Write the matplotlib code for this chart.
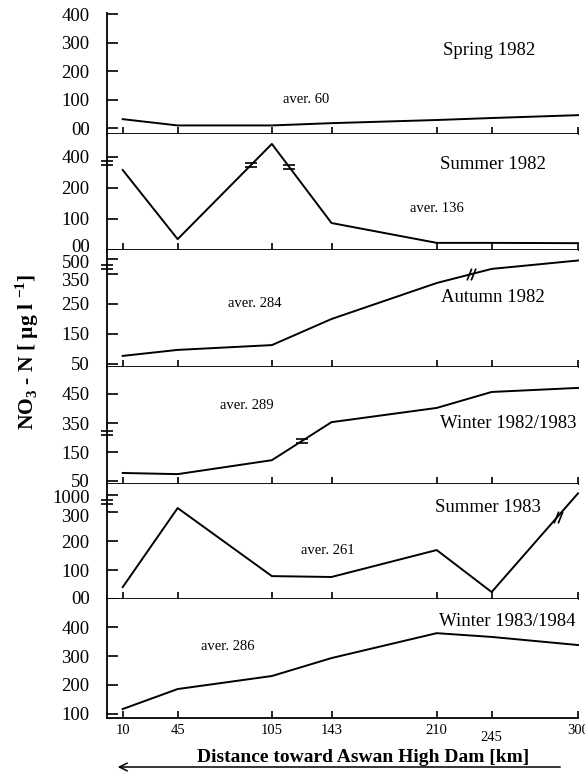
import numpy as np
import matplotlib
matplotlib.use("Agg")
import matplotlib.pyplot as plt
from matplotlib.path import Path
from matplotlib.patches import FancyArrowPatch
from matplotlib.transforms import ScaledTranslation

plt.rcParams["font.family"] = ["Liberation Serif", "DejaVu Serif"]
plt.rcParams["mathtext.fontset"] = "custom"
plt.rcParams["mathtext.rm"] = "Liberation Serif"
plt.rcParams["mathtext.bf"] = "Liberation Serif:bold"

# --- data (NO3-N, ug/l) -------------------------------------------------
distance_km = [10, 45, 105, 143, 210, 245, 300]
x_tick_labels = ["10", "45", "105", "143", "210", "245", "300"]

spring_1982 = [32, 10, 10, 18, 29, 36, 46]
summer_1982 = [274, 35, 526, 87, 23, 23, 22]
autumn_1982 = [77, 97, 113, 200, 320, 401, 485]
winter_1982_83 = [78, 74, 122, 353, 402, 457, 471]
summer_1983 = [41, 314, 79, 76, 169, 24, 1130]
winter_1983_84 = [117, 186, 231, 293, 379, 366, 338]

season_names = ["Spring 1982", "Summer 1982", "Autumn 1982",
                "Winter 1982/1983", "Summer 1983", "Winter 1983/1984"]
season_means = ["aver. 60", "aver. 136", "aver. 284",
                "aver. 289", "aver. 261", "aver. 286"]

y_ticks = [[0, 100, 200, 300, 400],
           [0, 100, 200, 400],
           [50, 150, 250, 350, 500],
           [50, 150, 350, 450],
           [0, 100, 200, 300, 1000],
           [100, 200, 300, 400]]
y_tick_labels = [["00", "100", "200", "300", "400"],
                 ["00", "100", "200", "400"],
                 ["50", "150", "250", "350", "500"],
                 ["50", "150", "350", "450"],
                 ["00", "100", "200", "300", "1000"],
                 ["100", "200", "300", "400"]]
# small vertical nudges of single tick labels (pixels, + = up), as in the original
y_label_nudge = [{}, {0: 5}, {3: -5, 4: -2}, {0: 1}, {0: 2, 3: -3, 4: -1}, {}]

# broken-axis scales: (values, positions) knots, piecewise linear
scale_knots = [([-1000, 5000], [-1000, 5000]),
               ([-1000, 250, 2000], [-1000, 250, 250 + 1750 / 3]),
               ([-1000, 350, 2000], [-1000, 350, 350 + 1650 / 3]),
               ([-1000, 200, 320, 2000], [-1000, 200, 220, 1900]),
               ([-1000, 330, 5000], [-1000, 330, 330 + 4670 * 29 / 670]),
               ([-1000, 5000], [-1000, 5000])]
y_limits = [(-20, 404), (0, 622), (40, 590), (40, 543), (0, 1878), (86, 497)]

axis_break = [None, 342, 419, 293, 422, None]
line_break_km = [[], [92, 116], [232], [124], [287], []]
line_break_kind = [None, "eq", "slash", "eq", "slash", None]

# text placement (axes fraction)
name_pos = [(0.812, 0.694), (0.819, 0.733), (0.819, 0.590),
            (0.851, 0.521), (0.808, 0.800), (0.849, 0.807)]
mean_pos = [(0.422, 0.281), (0.700, 0.362), (0.314, 0.547),
            (0.297, 0.675), (0.469, 0.426), (0.257, 0.597)]

series = [spring_1982, summer_1982, autumn_1982,
          winter_1982_83, summer_1983, winter_1983_84]


def make_scale(vals, poss):
    vals = np.asarray(vals, float)
    poss = np.asarray(poss, float)
    def fwd(v):
        return np.interp(v, vals, poss)
    def inv(p):
        return np.interp(p, poss, vals)
    return fwd, inv


M, L = Path.MOVETO, Path.LINETO
eq_marker = Path([(-1, 0.3), (1, 0.3), (-1, -0.3), (1, -0.3)], [M, L, M, L])
slash_marker = Path([(-0.75, -1), (0.05, 1), (-0.05, -1), (0.75, 1)], [M, L, M, L])

W, H = 585, 773
edges = [13, 134, 250, 367, 484, 599, 718]
left_px, right_px = 107, 578

fig = plt.figure(figsize=(W / 100, H / 100), dpi=100)

for i, vals in enumerate(series):
    top, bot = edges[i], edges[i + 1]
    ax = fig.add_axes([left_px / W, 1 - bot / H, (right_px - left_px) / W, (bot - top) / H])
    fwd, inv = make_scale(*scale_knots[i])
    ax.set_yscale("function", functions=(fwd, inv))

    ax.plot(distance_km, vals, color="black", lw=1.4, clip_on=False)
    ax.set_xlim(0, 300)
    ax.set_ylim(*y_limits[i])

    for s in ["top", "right"]:
        ax.spines[s].set_visible(False)
    for s in ["left", "bottom"]:
        ax.spines[s].set_linewidth(1.3)

    ax.set_yticks(y_ticks[i])
    ax.set_yticklabels(y_tick_labels[i])
    ax.yaxis.set_minor_locator(matplotlib.ticker.NullLocator())
    ax.set_xticks(distance_km)
    ax.tick_params(axis="y", direction="in", length=8, width=1.2,
                   labelsize=13.5, pad=12.5)
    ax.tick_params(axis="x", direction="in", length=5, width=1.2,
                   labelsize=10.5, pad=4)
    for k, dy in y_label_nudge[i].items():
        lab = ax.get_yticklabels()[k]
        lab.set_transform(lab.get_transform()
                          + ScaledTranslation(0, dy / 100, fig.dpi_scale_trans))
    if i == len(series) - 1:
        ax.set_xticklabels(x_tick_labels)
        ax.get_xticklabels()[5].set_y(-0.06)
    else:
        ax.set_xticklabels([])

    # break marks on the y axis
    if axis_break[i] is not None:
        ax.plot([0], [axis_break[i]], marker=eq_marker, ms=9, mew=1.2,
                mec="black", mfc="none", ls="none", clip_on=False)
    # break marks on the line
    pos_vals = fwd(np.asarray(vals, float))
    for xb in line_break_km[i]:
        yb = inv(np.interp(xb, distance_km, pos_vals))
        mk = eq_marker if line_break_kind[i] == "eq" else slash_marker
        ax.plot([xb], [yb], marker=mk, ms=8.5, mew=1.2,
                mec="black", mfc="none", ls="none", clip_on=False)

    ax.text(*name_pos[i], season_names[i], transform=ax.transAxes,
            ha="center", va="center", fontsize=13.5)
    ax.text(*mean_pos[i], season_means[i], transform=ax.transAxes,
            ha="center", va="center", fontsize=10.5)

fig.text(363 / W, 1 - 757 / H, "Distance toward Aswan High Dam [km]",
         ha="center", va="center", fontsize=14, fontweight="bold")
fig.text(27 / W, 1 - 352 / H, r"NO$_\mathbf{3}$ - N [ µg l $^\mathbf{-1}$]",
         ha="center", va="center", rotation=90, fontsize=15.5, fontweight="bold")
fig.add_artist(FancyArrowPatch((563 / W, 1 - 767 / H), (115 / W, 1 - 767 / H),
                               transform=fig.transFigure, arrowstyle="->",
                               mutation_scale=14, lw=1.1, color="black"))

fig.savefig("out.png", dpi=100)
